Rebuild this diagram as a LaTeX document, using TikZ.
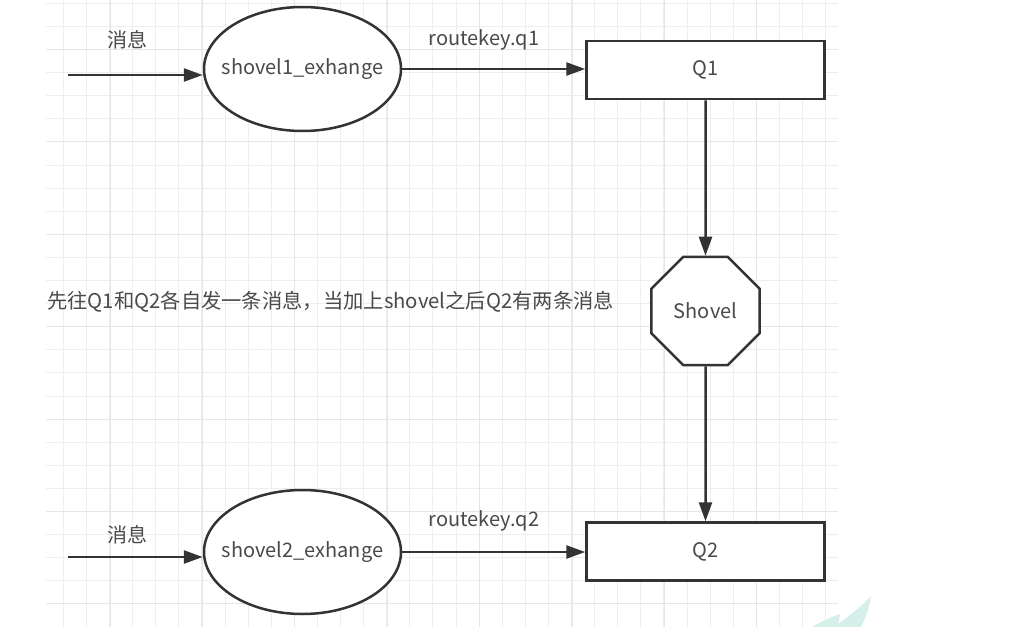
\documentclass[tikz,border=0pt]{standalone}
\usepackage{fontspec}
\setmainfont{Noto Sans CJK SC}
\usetikzlibrary{shapes.geometric,arrows.meta}
\definecolor{ink}{HTML}{333333}
\definecolor{txt}{HTML}{4A4A4A}
\definecolor{gridminor}{HTML}{EEEEEE}
\definecolor{gridmajor}{HTML}{E6E6E6}
\definecolor{wm}{HTML}{D5EFEA}
\tikzset{
  every node/.style={font=\fontsize{20}{24}\selectfont, text=txt},
  conn/.style={draw=ink, line width=2.5pt, -{Triangle[length=19pt,width=13pt]}},
  exch/.style={ellipse, draw=ink, line width=2.5pt, fill=white, minimum width=197pt, minimum height=124pt, inner sep=0pt},
  queue/.style={rectangle, draw=ink, line width=2.5pt, fill=white, minimum width=238pt, minimum height=58pt, inner sep=0pt},
  shovelbox/.style={regular polygon, regular polygon sides=8, draw=ink, line width=2.5pt, fill=white, minimum size=117pt, inner sep=0pt},
  lbl/.style={inner sep=0pt}
}
\begin{document}
\begin{tikzpicture}[x=1pt,y=-1pt]
\useasboundingbox (0,0) rectangle (1021,627);
\fill[white] (0,0) rectangle (1021,627);
% grid
\foreach \k in {0,...,33} {\draw[gridminor, line width=1pt] ({63.3+23.1*\k},0) -- ({63.3+23.1*\k},627);}
\foreach \k in {0,...,26} {\draw[gridminor, line width=1pt] (46,{3.3+23.1*\k}) -- (838,{3.3+23.1*\k});}
\foreach \k in {0,...,7} {\draw[gridmajor, line width=1pt] ({110+92.4*\k},0) -- ({110+92.4*\k},627);}
\foreach \k in {0,...,6} {\draw[gridmajor, line width=1pt] (46,{49.5+92.4*\k}) -- (838,{49.5+92.4*\k});}
% watermark
\fill[wm] (834,627) .. controls (852,614) and (864,604) .. (871,596) .. controls (869,610) and (865,619) .. (861,627) -- cycle;
\fill[wm] (812,627) .. controls (822,621) and (832,617) .. (840,614) -- (838,627) -- cycle;
% nodes
\node[exch, label={[lbl]center:shovel1\_exhange}] (e1) at (302.5,69) {};
\node[exch, label={[lbl]center:shovel2\_exhange}] (e2) at (302.5,552) {};
\node[queue] (q1) at (705.5,70) {Q1};
\node[queue] (q2) at (705.5,551.5) {Q2};
\node[shovelbox] (sh) at (705.5,311) {Shovel};
\coordinate (in1) at (68,75);
\coordinate (in2) at (68,557);
\node[lbl] (m1) at (127,40) {消息};
\node[lbl] (m2) at (127,535) {消息};
\node[lbl] (r1) at (484,40) {routekey.q1};
\node[lbl] (r2) at (484,521) {routekey.q2};
\node[lbl, anchor=west, font=\fontsize{20.3}{24}\selectfont] (note) at (47,302) {先往Q1和Q2各自发一条消息，当加上shovel之后Q2有两条消息};
% connectors
\draw[conn] (in1) -- (in1 -| e1.west);
\draw[conn] (in2) -- (in2 -| e2.west);
\draw[conn] (e1.east) -- (e1.east -| q1.west);
\draw[conn] (e2.east) -- (e2.east -| q2.west);
\draw[conn] (q1.south) -- (sh.north);
\draw[conn] (sh.south) -- (q2.north);
\end{tikzpicture}
\end{document}
